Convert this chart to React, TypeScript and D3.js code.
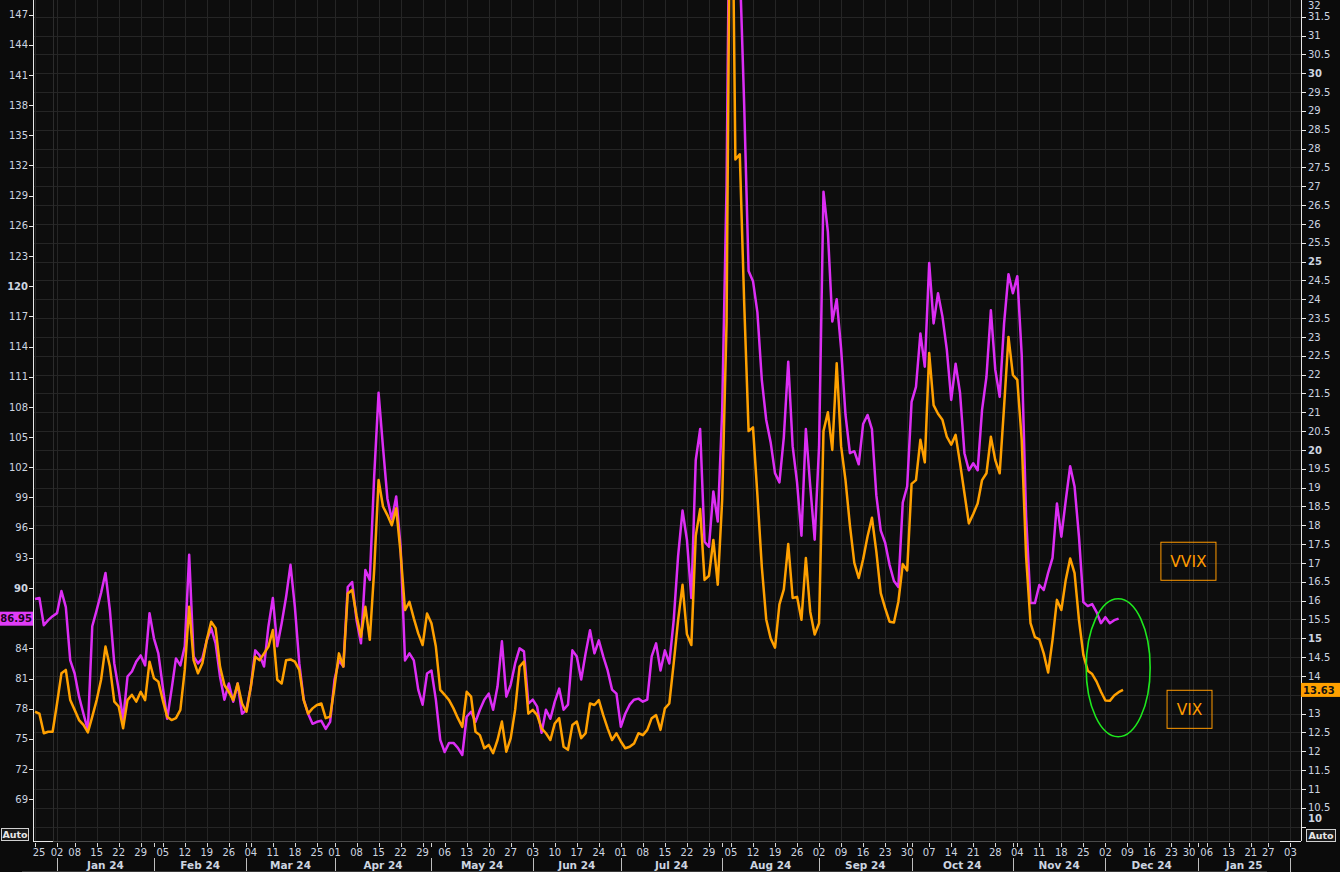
import React from "react";
import * as d3 from "d3";

// Daily index k: weekday positions, k = 0 is 02 Jan 2024, k = -5 is the week of 25 Dec 2023
const firstIndex = -5;

const vvixValues: number[] = [
  88.9, 89.0, 86.3, 86.8, 87.2, 87.5, 89.7, 88.1, 82.8, 81.5,
  79.2, 77.5, 75.9, 86.2, 87.8, 89.5, 91.5, 87.8, 82.5, 79.9,
  76.9, 81.2, 81.7, 82.7, 83.3, 82.3, 87.5, 85.0, 83.5, 80.2,
  77.0, 79.9, 83.0, 82.3, 84.2, 93.3, 83.2, 82.5, 83.0, 84.8,
  86.0, 84.5, 81.2, 78.9, 80.5, 78.7, 80.5, 77.5, 77.9, 80.2,
  83.8, 83.3, 82.2, 86.2, 89.0, 84.2, 86.5, 89.1, 92.3, 88.1,
  82.5, 78.9, 77.5, 76.5, 76.7, 76.8, 76.0, 76.7, 80.9, 82.8,
  82.2, 90.1, 90.6, 86.8, 84.5, 91.8, 90.8, 101.1, 109.4, 104.0,
  98.9, 96.8, 99.1, 94.1, 82.8, 83.5, 82.8, 79.9, 78.4, 81.5,
  81.8, 78.9, 74.9, 73.7, 74.6, 74.6, 74.1, 73.4, 77.2, 77.7,
  76.7, 77.9, 78.9, 79.5, 77.9, 80.2, 84.7, 79.2, 80.4, 82.5,
  84.0, 83.7, 78.5, 78.9, 78.2, 75.6, 77.9, 77.0, 78.7, 80.0,
  77.9, 78.4, 83.8, 83.2, 80.9, 83.5, 85.8, 83.5, 84.8, 83.2,
  81.8, 79.9, 79.5, 76.2, 77.5, 78.4, 78.9, 79.0, 78.7, 78.9,
  83.2, 84.5, 81.8, 83.8, 82.5, 86.8, 93.2, 97.7, 94.8, 89.0,
  102.7, 105.8, 94.6, 94.1, 99.6, 96.6, 107.6, 130.0, 175.0, 158.0,
  152.0, 138.0, 121.5, 120.5, 117.4, 110.7, 106.7, 104.5, 101.4, 100.5,
  105.0, 112.5, 104.1, 100.5, 95.2, 105.8, 100.1, 94.8, 104.1, 129.4,
  125.4, 116.5, 118.7, 113.8, 107.2, 103.4, 103.6, 102.3, 106.3, 107.2,
  105.8, 99.2, 95.7, 94.5, 92.3, 90.7, 90.1, 98.5, 100.1, 108.5,
  110.0, 115.3, 112.0, 122.3, 116.3, 119.3, 117.0, 113.7, 108.7, 112.3,
  109.4, 103.4, 101.7, 102.4, 101.7, 107.7, 111.0, 117.6, 111.7, 109.0,
  116.3, 121.2, 119.3, 121.0, 113.2, 97.1, 88.5, 88.5, 90.3, 89.8,
  91.5, 93.0, 98.4, 95.1, 98.7, 102.1, 100.1, 95.1, 88.6, 88.2,
  88.4, 87.6, 86.5, 87.1, 86.5, 86.8, 86.95,
];

const vixValues: number[] = [
  13.05, 13.0, 12.48, 12.52, 12.52, 13.27, 14.07, 14.16, 13.36, 13.1,
  12.83, 12.7, 12.5, 12.92, 13.36, 13.9, 14.78, 14.25, 13.32, 13.19,
  12.61, 13.36, 13.5, 13.32, 13.58, 13.36, 14.38, 13.94, 13.85, 13.36,
  12.92, 12.83, 12.88, 13.1, 14.16, 15.84, 14.42, 14.07, 14.34, 14.96,
  15.44, 15.27, 14.25, 13.76, 13.58, 13.36, 13.8, 13.27, 13.05, 13.72,
  14.51, 14.42, 14.6, 14.78, 15.22, 13.9, 13.8, 14.42, 14.44, 14.38,
  14.16, 13.36, 13.0, 13.14, 13.23, 13.27, 12.88, 12.92, 13.72, 14.6,
  14.25, 16.19, 16.28, 15.6, 15.04, 15.84, 14.96, 16.81, 19.2, 18.5,
  18.27, 18.0, 18.45, 17.26, 15.75, 15.97, 15.53, 15.13, 14.82, 15.66,
  15.4, 14.78, 13.63, 13.5, 13.36, 13.14, 12.88, 12.65, 13.58, 13.45,
  12.52, 12.43, 12.08, 12.17, 11.95, 12.3, 12.79, 11.99, 12.35, 13.1,
  14.25, 14.38, 13.0, 13.1, 12.96, 12.61, 12.48, 12.3, 12.74, 12.88,
  12.12, 12.04, 12.7, 12.79, 12.35, 12.48, 13.27, 13.23, 13.36, 12.96,
  12.61, 12.3, 12.48, 12.26, 12.08, 12.12, 12.21, 12.48, 12.43, 12.57,
  12.88, 12.96, 12.57, 13.14, 13.27, 14.34, 15.49, 16.42, 15.11, 14.82,
  17.72, 18.43, 16.55, 16.66, 17.61, 16.42, 18.67, 23.39, 38.57, 27.71,
  27.85, 23.9, 20.5, 20.6, 18.8, 16.9, 15.5, 15.0, 14.75, 15.9,
  16.3, 17.5, 16.07, 16.1, 15.49, 17.13, 15.7, 15.1, 15.4, 20.5,
  21.0, 20.0, 22.3, 20.1, 19.2, 18.0, 17.0, 16.6, 17.1, 17.7,
  18.2, 17.3, 16.2, 15.8, 15.44, 15.42, 15.97, 16.97, 16.8, 19.1,
  19.2, 20.27, 19.67, 22.57, 21.19, 20.96, 20.8, 20.35, 20.14, 20.4,
  19.65, 18.85, 18.05, 18.3, 18.58, 19.2, 19.38, 20.35, 19.73, 19.38,
  21.15, 23.0, 21.99, 21.86, 20.27, 17.17, 15.4, 15.03, 14.97, 14.6,
  14.09, 14.96, 16.02, 15.75, 16.55, 17.12, 16.73, 15.49, 14.56, 14.14,
  14.05, 13.85, 13.58, 13.35, 13.34, 13.48, 13.57, 13.63,
];

const leftTickValues = [69, 72, 75, 78, 81, 84, 87, 90, 93, 96, 99, 102, 105, 108, 111, 114, 117, 120, 123, 126, 129, 132, 135, 138, 141, 144, 147];
const leftBoldTicks = [90, 120];
const rightTickValues = [10, 10.5, 11, 11.5, 12, 12.5, 13, 13.5, 14, 14.5, 15, 15.5, 16, 16.5, 17, 17.5, 18, 18.5, 19, 19.5, 20, 20.5, 21, 21.5, 22, 22.5, 23, 23.5, 24, 24.5, 25, 25.5, 26, 26.5, 27, 27.5, 28, 28.5, 29, 29.5, 30, 30.5, 31, 31.5, 32];
const rightBoldTicks = [10, 15, 20, 25, 30];

const weekTickIndex = [-5, 0, 4, 9, 14, 19, 24, 29, 34, 39, 44, 49, 54, 59, 63, 68, 73, 78, 83, 88, 93, 98, 103, 108, 113, 118, 123, 128, 133, 138, 143, 148, 153, 158, 163, 168, 173, 178, 183, 188, 193, 198, 203, 208, 213, 218, 223, 228, 233, 238, 243, 248, 253, 257, 261, 266, 271, 275, 280];
const weekTickLabels = ["25", "02", "08", "15", "22", "29", "05", "12", "19", "26", "04", "11", "18", "25", "01", "08", "15", "22", "29", "06", "13", "20", "27", "03", "10", "17", "24", "01", "08", "15", "22", "29", "05", "12", "19", "26", "02", "09", "16", "23", "30", "07", "14", "21", "28", "04", "11", "18", "25", "02", "09", "16", "23", "30", "06", "13", "21", "27", "03"];
const monthStartIndex = [0, 22, 43, 63, 85, 108, 128, 151, 173, 194, 217, 238, 259, 280];
const monthLabels = ["Jan 24", "Feb 24", "Mar 24", "Apr 24", "May 24", "Jun 24", "Jul 24", "Aug 24", "Sep 24", "Oct 24", "Nov 24", "Dec 24", "Jan 25"];
const yearEndIndex = [-1, 258];

const VVIX_COLOR = "#dc2ef4";
const VIX_COLOR = "#ffa000";
const LABEL_COLOR = "#cdd5e0";
const GRID_COLOR = "#252525";
const FONT = "'DejaVu Sans', Verdana, sans-serif";

export default function App() {
  const W = 1340;
  const H = 872;
  const plot = { l: 33, r: 1301, t: 0, b: 841 };

  const x = d3.scaleLinear().domain([-5, 280]).range([35, 1290.4]);
  const yL = d3.scaleLinear().domain([90, 147]).range([588, 14.6]);
  const yR = d3.scaleLinear().domain([15, 31.5]).range([638.3, 16.7]);

  const vvixLine = d3
    .line<number>()
    .x((_, i) => x(i + firstIndex))
    .y((d) => yL(d));
  const vixLine = d3
    .line<number>()
    .x((_, i) => x(i + firstIndex))
    .y((d) => yR(d));

  const lastVvix = vvixValues[vvixValues.length - 1];
  const lastVix = vixValues[vixValues.length - 1];
  const vvixMarkY = yL(lastVvix);
  const vixMarkY = yR(lastVix);

  const gridH = rightTickValues.filter((v) => v < 32);

  // tick labels hidden underneath the last-value markers
  const leftLabels = leftTickValues.filter((v) => Math.abs(yL(v) - vvixMarkY) > 10);
  const rightLabels = rightTickValues.filter((v) => Math.abs(yR(v) - vixMarkY) > 11);
  const rightLabelY = (v: number) => Math.min(Math.max(yR(v), 5), 818);

  // annotation anchors (placed in data space)
  const ell = { cx: x(240.9), cy: yR(14.22), rx: 32, ry: 69 };
  const vvixBox = { x0: x(250.6), x1: x(263.1), y0: yR(17.55), y1: yR(16.54) };
  const vixBox = { x0: x(252.0), x1: x(262.2), y0: yR(13.62), y1: yR(12.61) };

  return (
    <div style={{ position: "absolute", left: 0, top: 0, width: W, height: H, background: "#0b0b0b" }}>
      <style>{`body{margin:0;background:#0b0b0b;}`}</style>
      <svg width={W} height={H} style={{ display: "block" }} fontFamily={FONT}>
        <defs>
          <clipPath id="plotClip">
            <rect x={plot.l + 1} y={plot.t} width={plot.r - plot.l - 1} height={plot.b - plot.t} />
          </clipPath>
        </defs>
        <rect x={0} y={0} width={W} height={H} fill="#0b0b0b" />
        <rect x={plot.l} y={plot.t} width={plot.r - plot.l} height={plot.b - plot.t} fill="#0d0d0d" />

        {/* grid */}
        <g shapeRendering="crispEdges">
          {gridH.map((v) => (
            <line key={"gh" + v} x1={plot.l} x2={plot.r} y1={Math.round(yR(v)) + 0.5} y2={Math.round(yR(v)) + 0.5} stroke={GRID_COLOR} />
          ))}
          {weekTickIndex.map((k, i) => (
            <line key={"gv" + i} x1={Math.round(x(k)) + 0.5} x2={Math.round(x(k)) + 0.5} y1={plot.t} y2={plot.b} stroke={GRID_COLOR} />
          ))}
          {yearEndIndex.map((k) => (
            <line key={"gy" + k} x1={Math.round(x(k)) + 0.5} x2={Math.round(x(k)) + 0.5} y1={plot.t} y2={plot.b} stroke="#2c2c2c" />
          ))}
        </g>

        {/* series */}
        <g clipPath="url(#plotClip)">
          <path d={vvixLine(vvixValues) || ""} fill="none" stroke={VVIX_COLOR} strokeWidth={2.5} strokeLinejoin="round" />
          <path d={vixLine(vixValues) || ""} fill="none" stroke={VIX_COLOR} strokeWidth={2.5} strokeLinejoin="round" />
        </g>

        {/* annotations */}
        <ellipse cx={ell.cx} cy={ell.cy} rx={ell.rx} ry={ell.ry} fill="none" stroke="#1ee81e" strokeWidth={1.6} />
        <rect x={vvixBox.x0} y={vvixBox.y0} width={vvixBox.x1 - vvixBox.x0} height={vvixBox.y1 - vvixBox.y0} fill="none" stroke="#ff9a00" strokeWidth={1} />
        <text x={(vvixBox.x0 + vvixBox.x1) / 2} y={(vvixBox.y0 + vvixBox.y1) / 2} dy="0.36em" textAnchor="middle" fontSize={15.5} fill="#ff9a00">VVIX</text>
        <rect x={vixBox.x0} y={vixBox.y0} width={vixBox.x1 - vixBox.x0} height={vixBox.y1 - vixBox.y0} fill="none" stroke="#ff9a00" strokeWidth={1} />
        <text x={(vixBox.x0 + vixBox.x1) / 2} y={(vixBox.y0 + vixBox.y1) / 2} dy="0.36em" textAnchor="middle" fontSize={15.5} fill="#ff9a00">VIX</text>

        {/* left axis */}
        <g shapeRendering="crispEdges">
          <line x1={plot.l + 0.5} x2={plot.l + 0.5} y1={0} y2={plot.b} stroke="#e8e8e8" />
          <line x1={plot.l} x2={53} y1={plot.b + 0.5} y2={plot.b + 0.5} stroke="#e8e8e8" />
          {leftTickValues.map((v) => (
            <line key={"lt" + v} x1={plot.l - 4} x2={plot.l} y1={Math.round(yL(v)) + 0.5} y2={Math.round(yL(v)) + 0.5} stroke="#e8e8e8" />
          ))}
        </g>
        {leftLabels.map((v) => (
          <text key={"ll" + v} x={28} y={yL(v)} dy="0.36em" textAnchor="end" fontSize={10} fill={LABEL_COLOR} fontWeight={leftBoldTicks.includes(v) ? "bold" : "normal"}>
            {v}
          </text>
        ))}

        {/* right axis */}
        <g shapeRendering="crispEdges">
          <line x1={plot.r + 0.5} x2={plot.r + 0.5} y1={0} y2={plot.b} stroke="#e8e8e8" />
          <line x1={1280} x2={plot.r} y1={plot.b + 0.5} y2={plot.b + 0.5} stroke="#e8e8e8" />
          {rightTickValues.map((v) => (
            <line key={"rt" + v} x1={plot.r} x2={plot.r + 5} y1={Math.round(yR(v)) + 0.5} y2={Math.round(yR(v)) + 0.5} stroke="#e8e8e8" />
          ))}
        </g>
        {rightLabels.map((v) => (
          <text key={"rl" + v} x={plot.r + 7} y={rightLabelY(v)} dy="0.36em" textAnchor="start" fontSize={10} fill={LABEL_COLOR} fontWeight={rightBoldTicks.includes(v) ? "bold" : "normal"}>
            {v}
          </text>
        ))}

        {/* bottom axis */}
        <g shapeRendering="crispEdges">
          <line x1={53} x2={1280} y1={plot.b + 0.5} y2={plot.b + 0.5} stroke="#4a4a4a" />
          {weekTickIndex.map((k, i) => (
            <line key={"wt" + i} x1={Math.round(x(k)) + 0.5} x2={Math.round(x(k)) + 0.5} y1={plot.b + 2} y2={plot.b + 6} stroke="#d8d8d8" />
          ))}
          {monthStartIndex.map((k, i) => (
            <line key={"mt" + i} x1={Math.round(x(k)) + 0.5} x2={Math.round(x(k)) + 0.5} y1={plot.b + 2} y2={plot.b + 6} stroke="#d8d8d8" />
          ))}
          {monthStartIndex.map((k, i) => (
            <line key={"ms" + i} x1={Math.round(x(k)) + 0.5} x2={Math.round(x(k)) + 0.5} y1={858} y2={872} stroke="#bdbdbd" />
          ))}
          <line x1={22} x2={1267} y1={871.5} y2={871.5} stroke="#3a3a3a" />
        </g>
        {weekTickIndex.map((k, i) => (
          <text key={"wl" + i} x={Math.max(x(k), 39)} y={852} dy="0.36em" textAnchor="middle" fontSize={10} fill={LABEL_COLOR}>
            {weekTickLabels[i]}
          </text>
        ))}
        {monthLabels.map((m, i) => (
          <text key={"ml" + i} x={(x(monthStartIndex[i]) + x(monthStartIndex[i + 1])) / 2} y={865} dy="0.36em" textAnchor="middle" fontSize={10.5} fontWeight="bold" fill={LABEL_COLOR}>
            {m}
          </text>
        ))}

        {/* last value markers */}
        <rect x={0} y={vvixMarkY - 7} width={plot.l} height={14} fill="#e03cf8" />
        <text x={plot.l - 1} y={vvixMarkY} dy="0.36em" textAnchor="end" fontSize={10} fontWeight="bold" fill="#1a0320">
          {lastVvix.toFixed(2)}
        </text>
        <rect x={plot.r} y={vixMarkY - 7} width={W - plot.r} height={14} fill="#ffa000" />
        <text x={plot.r + 2} y={vixMarkY} dy="0.36em" textAnchor="start" fontSize={10} fontWeight="bold" fill="#111">
          {lastVix.toFixed(2)}
        </text>

        {/* Auto boxes */}
        <rect x={1.5} y={828.5} width={27} height={12} fill="#1a1a1a" stroke="#d0d0d0" />
        <text x={15} y={834.5} dy="0.36em" textAnchor="middle" fontSize={9.5} fontWeight="bold" fill="#e6e6e6">Auto</text>
        <rect x={1306.5} y={829.5} width={29} height={12} fill="#1a1a1a" stroke="#d0d0d0" />
        <text x={1321} y={835.5} dy="0.36em" textAnchor="middle" fontSize={9.5} fontWeight="bold" fill="#e6e6e6">Auto</text>
      </svg>
    </div>
  );
}
